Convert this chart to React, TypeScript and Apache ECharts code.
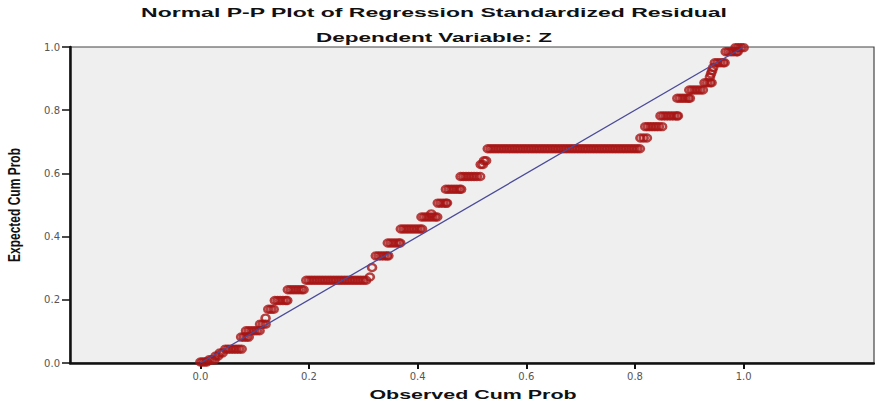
import React, { useEffect, useRef } from "react";
import * as echarts from "echarts";

// Tied groups of residuals: [expected cum prob, observed cum probs]
const steps: [number, number[]][] = [
  [0.003, [0.0, 0.004, 0.008, 0.012]],
  [0.010, [0.016, 0.021, 0.026]],
  [0.022, [0.028, 0.033]],
  [0.032, [0.036, 0.041]],
  [0.044, [0.046, 0.051, 0.056, 0.061, 0.066, 0.071, 0.076]],
  [0.082, [0.075, 0.080, 0.085, 0.089]],
  [0.102, [0.084, 0.089, 0.094, 0.099, 0.104, 0.109]],
  [0.123, [0.110, 0.115, 0.120]],
  [0.142, [0.120]],
  [0.170, [0.125, 0.130, 0.135]],
  [0.198, [0.137, 0.142, 0.147, 0.152, 0.157, 0.160]],
  [0.232, [0.161, 0.166, 0.171, 0.176, 0.181, 0.186, 0.190]],
  [0.262, [0.195, 0.200, 0.205, 0.210, 0.215, 0.220, 0.225, 0.230, 0.235, 0.240, 0.245, 0.250,
    0.255, 0.260, 0.265, 0.270, 0.275, 0.280, 0.285, 0.290, 0.295, 0.300, 0.305]],
  [0.272, [0.312]],
  [0.302, [0.316]],
  [0.339, [0.323, 0.328, 0.333, 0.338, 0.343, 0.346]],
  [0.380, [0.345, 0.350, 0.355, 0.360, 0.365, 0.368]],
  [0.424, [0.369, 0.374, 0.379, 0.384, 0.389, 0.394, 0.399, 0.404, 0.408]],
  [0.462, [0.407, 0.412, 0.417, 0.422, 0.427, 0.432, 0.436]],
  [0.472, [0.425]],
  [0.506, [0.437, 0.442, 0.447, 0.452, 0.454]],
  [0.550, [0.452, 0.457, 0.462, 0.467, 0.472, 0.477, 0.480]],
  [0.590, [0.479, 0.484, 0.489, 0.494, 0.499, 0.504, 0.509, 0.515]],
  [0.628, [0.516, 0.520]],
  [0.640, [0.522, 0.526]],
  [0.678, [0.529, 0.534, 0.539, 0.544, 0.549, 0.554, 0.559, 0.564, 0.569, 0.574, 0.579, 0.584,
    0.589, 0.594, 0.599, 0.604, 0.609, 0.614, 0.619, 0.624, 0.629, 0.634, 0.639, 0.644, 0.649,
    0.654, 0.659, 0.664, 0.669, 0.674, 0.679, 0.684, 0.689, 0.694, 0.699, 0.704, 0.709, 0.714,
    0.719, 0.724, 0.729, 0.734, 0.739, 0.744, 0.749, 0.754, 0.759, 0.764, 0.769, 0.774, 0.779,
    0.784, 0.789, 0.794, 0.799, 0.804, 0.809]],
  [0.712, [0.810, 0.816, 0.822]],
  [0.748, [0.819, 0.824, 0.829, 0.834, 0.839, 0.844, 0.850]],
  [0.782, [0.847, 0.852, 0.857, 0.862, 0.867, 0.872, 0.877, 0.879]],
  [0.838, [0.878, 0.883, 0.888, 0.893, 0.898, 0.901]],
  [0.864, [0.900, 0.905, 0.910, 0.915, 0.920, 0.925]],
  [0.887, [0.928, 0.933, 0.938, 0.941]],
  [0.905, [0.938]],
  [0.915, [0.940]],
  [0.925, [0.942]],
  [0.935, [0.944]],
  [0.950, [0.947, 0.952, 0.957, 0.962, 0.965]],
  [0.985, [0.967, 0.972, 0.977, 0.982, 0.987, 0.989]],
  [0.998, [0.985, 0.990, 0.995, 1.0]],
];

const refLine: [number, number][] = [[0, 0], [1, 1]];
const xTicks = [0, 0.2, 0.4, 0.6, 0.8, 1.0];

const titleLine1 = "Normal P-P Plot of Regression Standardized Residual";
const titleLine2 = "Dependent Variable: Z";
const xName = "Observed Cum Prob";
const yName = "Expected Cum Prob";

export default function App() {
  const ref = useRef<HTMLDivElement>(null);
  useEffect(() => {
    if (!ref.current) return;
    const chart = echarts.init(ref.current, undefined, { renderer: "svg" });
    const points: [number, number][] = [];
    steps.forEach(([y, xs]) => xs.forEach((x) => points.push([x, y])));
    const sans = '"Liberation Sans", Arial, sans-serif';
    chart.setOption({
      animation: false,
      backgroundColor: "#ffffff",
      grid: {
        left: 70,
        right: 1,
        top: 47,
        bottom: 43,
        show: true,
        backgroundColor: "#efefef",
        borderColor: "#444",
        borderWidth: 1.2,
      },
      xAxis: {
        type: "value",
        min: -0.24,
        max: 1.24,
        axisLine: { show: true, onZero: false, lineStyle: { color: "#111", width: 2.5 } },
        axisTick: { show: true, customValues: xTicks, length: 6, lineStyle: { color: "#111", width: 2 } },
        axisLabel: {
          customValues: xTicks,
          formatter: (v: number) => v.toFixed(1),
          fontFamily: '"DejaVu Sans", sans-serif',
          fontSize: 10,
          color: "#555",
          margin: 8,
        },
        splitLine: { show: false },
      },
      yAxis: {
        type: "value",
        min: 0,
        max: 1,
        interval: 0.2,
        axisLine: { show: true, onZero: false, lineStyle: { color: "#111", width: 2.5 } },
        axisTick: { show: true, length: 8, lineStyle: { color: "#111", width: 1.5 } },
        axisLabel: {
          formatter: (v: number) => v.toFixed(1),
          fontFamily: '"DejaVu Sans", sans-serif',
          fontSize: 10,
          color: "#555",
          margin: 10,
        },
        splitLine: { show: false },
      },
      series: [
        {
          type: "scatter",
          data: points,
          symbol: "circle",
          symbolSize: [8, 7],
          itemStyle: { color: "rgba(255,255,255,0)", borderColor: "#a81414", borderWidth: 2.5 },
          z: 2,
        },
        {
          type: "line",
          data: refLine,
          symbol: "none",
          lineStyle: { color: "#4a4a9a", width: 1.3 },
          z: 3,
        },
      ],
      graphic: [
        {
          type: "text",
          x: 434,
          y: 13,
          scaleX: 1.84,
          style: { text: titleLine1, font: `bold 12.5px ${sans}`, fill: "#111", textAlign: "center", textVerticalAlign: "middle" },
        },
        {
          type: "text",
          x: 434,
          y: 38,
          scaleX: 1.8,
          style: { text: titleLine2, font: `bold 12.5px ${sans}`, fill: "#111", textAlign: "center", textVerticalAlign: "middle" },
        },
        {
          type: "text",
          x: 473,
          y: 395,
          scaleX: 1.65,
          style: { text: xName, font: `bold 13px ${sans}`, fill: "#111", textAlign: "center", textVerticalAlign: "middle" },
        },
        {
          type: "text",
          x: 14,
          y: 205,
          rotation: Math.PI / 2,
          scaleY: 1.3,
          style: { text: yName, font: `bold 12px ${sans}`, fill: "#111", textAlign: "center", textVerticalAlign: "middle" },
        },
      ],
    });
    return () => chart.dispose();
  }, []);
  return <div ref={ref} style={{ position: "fixed", left: 0, top: 0, width: 875, height: 406 }} />;
}
